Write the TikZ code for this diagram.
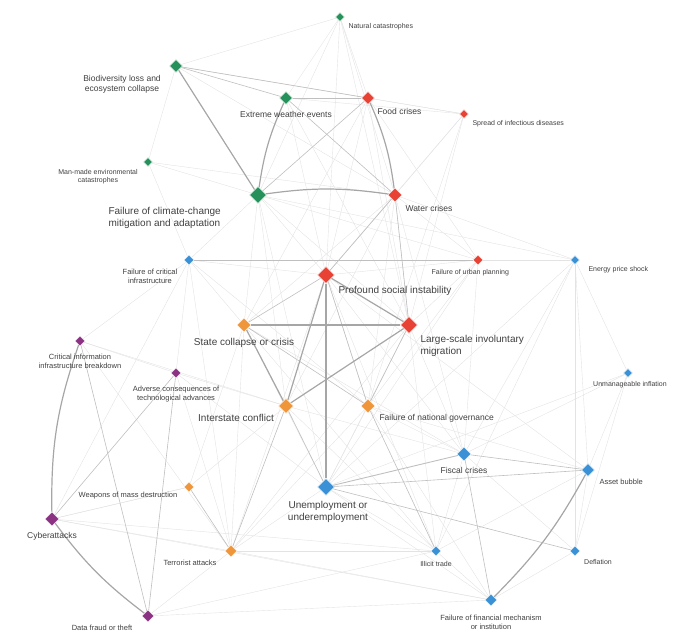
\documentclass[tikz,border=0pt]{standalone}
\usepackage{fontspec}
\setmainfont{Liberation Sans}
\usetikzlibrary{shapes.geometric,positioning}
\definecolor{envgreen}{RGB}{38,145,90}
\definecolor{socred}{RGB}{232,66,52}
\definecolor{geoorange}{RGB}{240,150,58}
\definecolor{ecoblue}{RGB}{58,145,214}
\definecolor{techpurple}{RGB}{140,50,130}
\tikzset{
  risk/.style={diamond, draw=white, line width=0.4pt, inner sep=0pt, minimum size=#1},
  risk/.default=12pt,
  lab/.style={font=\fontsize{7}{8}\selectfont, text=black!75, align=center},
  biglab/.style={font=\fontsize{10}{12}\selectfont, text=black!75, align=left},
  weak/.style={gray!22, line width=0.4pt},
  mid/.style={gray!50, line width=0.6pt},
  strong/.style={gray!70, line width=1.2pt},
}
\begin{document}
\begin{tikzpicture}[x=1pt,y=-1pt]
    \useasboundingbox (0,0) rectangle (700,640);
    % risks
    \node[risk=9pt, fill=envgreen] (nat) at (340,17) {};
    \node[risk=13pt, fill=envgreen] (bio) at (176,66) {};
    \node[risk=13pt, fill=envgreen] (ext) at (286,98) {};
    \node[risk=13pt, fill=socred] (food) at (368,98) {};
    \node[risk=9pt, fill=socred] (inf) at (464,114) {};
    \node[risk=9pt, fill=envgreen] (man) at (148,162) {};
    \node[risk=17pt, fill=envgreen] (clim) at (258,195) {};
    \node[risk=14pt, fill=socred] (water) at (395,195) {};
    \node[risk=10pt, fill=ecoblue] (crit) at (189,260) {};
    \node[risk=17pt, fill=socred] (soc) at (326,275) {};
    \node[risk=10pt, fill=socred] (urb) at (478,260) {};
    \node[risk=9pt, fill=ecoblue] (ener) at (575,260) {};
    \node[risk=14pt, fill=geoorange] (state) at (244,325) {};
    \node[risk=17pt, fill=socred] (migr) at (409,325) {};
    \node[risk=10pt, fill=techpurple] (cii) at (80,341) {};
    \node[risk=10pt, fill=techpurple] (adv) at (176,373) {};
    \node[risk=9pt, fill=ecoblue] (infl) at (628,373) {};
    \node[risk=15pt, fill=geoorange] (inter) at (286,406) {};
    \node[risk=14pt, fill=geoorange] (gov) at (368,406) {};
    \node[risk=14pt, fill=ecoblue] (fisc) at (464,454) {};
    \node[risk=13pt, fill=ecoblue] (bubl) at (588,470) {};
    \node[risk=10pt, fill=geoorange] (wmd) at (189,487) {};
    \node[risk=17pt, fill=ecoblue] (unem) at (326,487) {};
    \node[risk=14pt, fill=techpurple] (cyb) at (52,519) {};
    \node[risk=12pt, fill=geoorange] (terr) at (231,551) {};
    \node[risk=10pt, fill=ecoblue] (illi) at (436,551) {};
    \node[risk=10pt, fill=ecoblue] (defl) at (575,551) {};
    \node[risk=12pt, fill=ecoblue] (fin) at (491,600) {};
    \node[risk=12pt, fill=techpurple] (data) at (148,616) {};

    % weak links
    \foreach \a/\b in {nat/ext,nat/food,nat/clim,nat/water,nat/soc,nat/bio,nat/migr,
        bio/water,bio/man,bio/inf,man/clim,man/water,man/crit,ext/soc,ext/migr,ext/inf,
        food/soc,food/migr,food/inf,food/urb,food/state,inf/soc,inf/water,inf/migr,inf/gov,
        clim/soc,clim/migr,clim/crit,clim/state,clim/inter,clim/unem,clim/ener,clim/urb,
        water/soc,water/migr,water/state,water/inter,water/gov,water/urb,water/ener,water/fisc,
        crit/soc,crit/cyb,crit/adv,crit/cii,crit/terr,crit/gov,crit/state,crit/ener,
        soc/gov,soc/fisc,soc/illi,soc/terr,soc/urb,soc/bubl,
        urb/migr,urb/gov,urb/unem,urb/fisc,ener/infl,ener/fisc,ener/bubl,ener/defl,ener/unem,ener/illi,
        state/terr,state/wmd,state/fisc,state/illi,state/unem,migr/fisc,migr/illi,migr/terr,migr/unem,
        cii/adv,cii/terr,cii/inter,adv/inter,adv/unem,adv/terr,infl/fisc,infl/bubl,infl/defl,infl/unem,
        inter/wmd,inter/illi,inter/fisc,gov/unem,gov/fisc,gov/terr,gov/fin,gov/bubl,
        fisc/defl,fisc/illi,bubl/defl,bubl/illi,unem/illi,unem/terr,unem/fin,
        cyb/terr,cyb/illi,cyb/fin,cyb/wmd,terr/illi,terr/fin,terr/data,data/fin,data/illi,defl/fin,illi/fin,wmd/cyb}
        \draw[weak] (\a) -- (\b);

    % medium links
    \foreach \a/\b in {bio/ext,bio/food,ext/food,ext/water,clim/food,soc/gov,state/gov,
        migr/gov,unem/inter,fisc/fin,unem/bubl,crit/urb,inter/terr,cii/data,adv/cyb,unem/defl,
        fisc/bubl,wmd/terr,adv/data,migr/water,soc/water,gov/illi,state/soc}
        \draw[mid] (\a) -- (\b);

    % strong links
    \draw[strong] (bio) -- (clim);
    \draw[strong] (ext) to[bend right=8] (clim);
    \draw[strong] (clim) to[bend left=8] (water);
    \draw[strong] (food) to[bend left=8] (water);
    \draw[strong] (soc) -- (unem);
    \draw[strong] (state) -- (migr);
    \draw[strong] (soc) -- (migr);
    \draw[strong] (inter) -- (migr);
    \draw[strong] (inter) -- (soc);
    \draw[strong] (state) -- (inter);
    \draw[strong] (cii) to[bend right=10] (cyb);
    \draw[strong] (cyb) to[bend right=8] (data);
    \draw[strong] (bubl) to[bend left=8] (fin);
    \draw[mid, line width=0.9pt] (unem) -- (fisc);

    % redraw risks on top
    \foreach \n/\c/\s in {nat/envgreen/9,bio/envgreen/13,ext/envgreen/13,food/socred/13,inf/socred/9,
        man/envgreen/9,clim/envgreen/17,water/socred/14,crit/ecoblue/10,soc/socred/17,urb/socred/10,
        ener/ecoblue/9,state/geoorange/14,migr/socred/17,cii/techpurple/10,adv/techpurple/10,
        infl/ecoblue/9,inter/geoorange/15,gov/geoorange/14,fisc/ecoblue/14,bubl/ecoblue/13,
        wmd/geoorange/10,unem/ecoblue/17,cyb/techpurple/14,terr/geoorange/12,illi/ecoblue/10,
        defl/ecoblue/10,fin/ecoblue/12,data/techpurple/12}
        \node[risk=\s pt, fill=\c] at (\n) {};

    % labels
    \node[lab, anchor=west] at (345,27) {Natural catastrophes};
    \node[lab, font=\fontsize{8.5}{10}\selectfont] at (122,84) {Biodiversity loss and\\ecosystem collapse};
    \node[lab, font=\fontsize{8.5}{10}\selectfont] at (286,114) {Extreme weather events};
    \node[lab, font=\fontsize{8.5}{10}\selectfont, anchor=west] at (374,111) {Food crises};
    \node[lab, anchor=west] at (469,124) {Spread of infectious diseases};
    \node[lab] at (98,177) {Man-made environmental\\catastrophes};
    \node[biglab, anchor=west] at (105,218) {Failure of climate-change\\mitigation and adaptation};
    \node[lab, font=\fontsize{8.5}{10}\selectfont, anchor=west] at (402,208) {Water crises};
    \node[lab, font=\fontsize{7.5}{9}\selectfont] at (150,276) {Failure of critical\\infrastructure};
    \node[biglab, anchor=west] at (335,291) {Profound social instability};
    \node[lab, anchor=west] at (428,273) {Failure of urban planning};
    \node[lab, anchor=west] at (585,270) {Energy price shock};
    \node[biglab] at (244,343) {State collapse or crisis};
    \node[biglab, anchor=west] at (417,346) {Large-scale involuntary\\migration};
    \node[lab, font=\fontsize{7.5}{9}\selectfont] at (80,361) {Critical information\\infrastructure breakdown};
    \node[lab, font=\fontsize{7.5}{9}\selectfont] at (176,394) {Adverse consequences of\\technological advances};
    \node[lab] at (630,385) {Unmanageable inflation};
    \node[biglab] at (236,418) {Interstate conflict};
    \node[lab, font=\fontsize{8.5}{10}\selectfont, anchor=west] at (376,418) {Failure of national governance};
    \node[lab, font=\fontsize{8.5}{10}\selectfont] at (464,470) {Fiscal crises};
    \node[lab, font=\fontsize{7.5}{9}\selectfont, anchor=west] at (596,482) {Asset bubble};
    \node[lab, font=\fontsize{7.5}{9}\selectfont] at (128,496) {Weapons of mass destruction};
    \node[biglab, align=center] at (328,512) {Unemployment or\\underemployment};
    \node[lab, font=\fontsize{8.5}{10}\selectfont] at (52,536) {Cyberattacks};
    \node[lab, font=\fontsize{7.5}{9}\selectfont] at (190,563) {Terrorist attacks};
    \node[lab] at (436,564) {Illicit trade};
    \node[lab] at (598,562) {Deflation};
    \node[lab, font=\fontsize{7.5}{9}\selectfont] at (491,622) {Failure of financial mechanism\\or institution};
    \node[lab, font=\fontsize{7.5}{9}\selectfont] at (102,628) {Data fraud or theft};
\end{tikzpicture}
\end{document}
